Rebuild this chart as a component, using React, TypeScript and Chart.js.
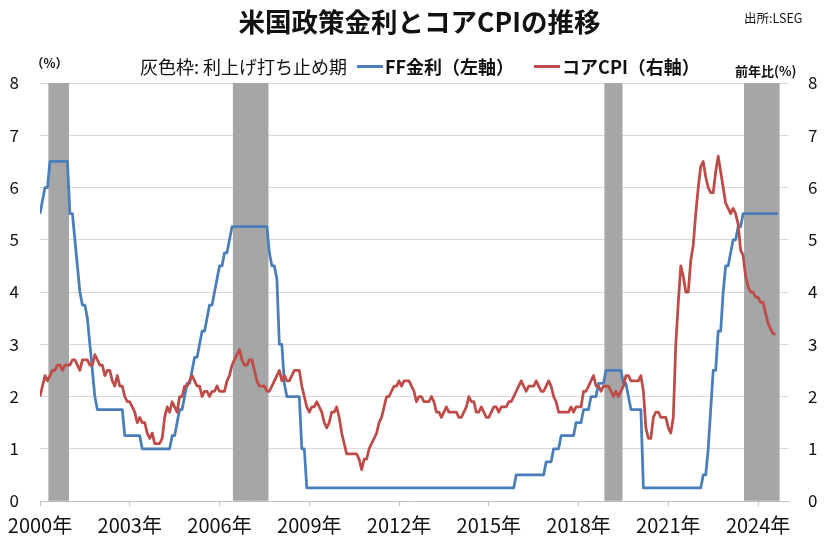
import React, { useEffect, useRef } from "react";
import { Chart, registerables } from "chart.js";

Chart.register(...registerables);

// ---- data ----
const xTickLabels = ["2000年", "2003年", "2006年", "2009年", "2012年", "2015年", "2018年", "2021年", "2024年"];
const yTickValues = [0, 1, 2, 3, 4, 5, 6, 7, 8];
const firstYear = 2000;
const axisMonths = 300;

// FF rate (target / upper bound, %), monthly from Jan 2000 to Sep 2024
const ffRate = [
  5.5, 5.75, 6, 6, 6.5, 6.5, 6.5, 6.5, 6.5, 6.5, 6.5, 6.5, // 2000
  5.5, 5.5, 5, 4.5, 4, 3.75, 3.75, 3.5, 3, 2.5, 2, 1.75, // 2001
  1.75, 1.75, 1.75, 1.75, 1.75, 1.75, 1.75, 1.75, 1.75, 1.75, 1.25, 1.25, // 2002
  1.25, 1.25, 1.25, 1.25, 1.25, 1, 1, 1, 1, 1, 1, 1, // 2003
  1, 1, 1, 1, 1, 1.25, 1.25, 1.5, 1.75, 1.75, 2, 2.25, // 2004
  2.25, 2.5, 2.75, 2.75, 3, 3.25, 3.25, 3.5, 3.75, 3.75, 4, 4.25, // 2005
  4.5, 4.5, 4.75, 4.75, 5, 5.25, 5.25, 5.25, 5.25, 5.25, 5.25, 5.25, // 2006
  5.25, 5.25, 5.25, 5.25, 5.25, 5.25, 5.25, 5.25, 4.75, 4.5, 4.5, 4.25, // 2007
  3, 3, 2.25, 2, 2, 2, 2, 2, 2, 1, 1, 0.25, // 2008
  0.25, 0.25, 0.25, 0.25, 0.25, 0.25, 0.25, 0.25, 0.25, 0.25, 0.25, 0.25, // 2009
  0.25, 0.25, 0.25, 0.25, 0.25, 0.25, 0.25, 0.25, 0.25, 0.25, 0.25, 0.25, // 2010
  0.25, 0.25, 0.25, 0.25, 0.25, 0.25, 0.25, 0.25, 0.25, 0.25, 0.25, 0.25, // 2011
  0.25, 0.25, 0.25, 0.25, 0.25, 0.25, 0.25, 0.25, 0.25, 0.25, 0.25, 0.25, // 2012
  0.25, 0.25, 0.25, 0.25, 0.25, 0.25, 0.25, 0.25, 0.25, 0.25, 0.25, 0.25, // 2013
  0.25, 0.25, 0.25, 0.25, 0.25, 0.25, 0.25, 0.25, 0.25, 0.25, 0.25, 0.25, // 2014
  0.25, 0.25, 0.25, 0.25, 0.25, 0.25, 0.25, 0.25, 0.25, 0.25, 0.25, 0.5, // 2015
  0.5, 0.5, 0.5, 0.5, 0.5, 0.5, 0.5, 0.5, 0.5, 0.5, 0.5, 0.75, // 2016
  0.75, 0.75, 1, 1, 1, 1.25, 1.25, 1.25, 1.25, 1.25, 1.25, 1.5, // 2017
  1.5, 1.5, 1.75, 1.75, 1.75, 2, 2, 2, 2.25, 2.25, 2.25, 2.5, // 2018
  2.5, 2.5, 2.5, 2.5, 2.5, 2.5, 2.25, 2.25, 2, 1.75, 1.75, 1.75, // 2019
  1.75, 1.75, 0.25, 0.25, 0.25, 0.25, 0.25, 0.25, 0.25, 0.25, 0.25, 0.25, // 2020
  0.25, 0.25, 0.25, 0.25, 0.25, 0.25, 0.25, 0.25, 0.25, 0.25, 0.25, 0.25, // 2021
  0.25, 0.25, 0.5, 0.5, 1, 1.75, 2.5, 2.5, 3.25, 3.25, 4, 4.5, // 2022
  4.5, 4.75, 5, 5, 5.25, 5.25, 5.5, 5.5, 5.5, 5.5, 5.5, 5.5, // 2023
  5.5, 5.5, 5.5, 5.5, 5.5, 5.5, 5.5, 5.5, 5.5, // 2024
];

// Core CPI, year-over-year %, monthly from Jan 2000 to Aug 2024
const coreCpi = [
  2.0, 2.2, 2.4, 2.3, 2.4, 2.5, 2.5, 2.6, 2.6, 2.5, 2.6, 2.6, // 2000
  2.6, 2.7, 2.7, 2.6, 2.5, 2.7, 2.7, 2.7, 2.6, 2.6, 2.8, 2.7, // 2001
  2.6, 2.6, 2.4, 2.5, 2.5, 2.3, 2.2, 2.4, 2.2, 2.2, 2.0, 1.9, // 2002
  1.9, 1.8, 1.7, 1.5, 1.6, 1.5, 1.5, 1.3, 1.2, 1.3, 1.1, 1.1, // 2003
  1.1, 1.2, 1.6, 1.8, 1.7, 1.9, 1.8, 1.7, 2.0, 2.0, 2.2, 2.2, // 2004
  2.3, 2.4, 2.3, 2.2, 2.2, 2.0, 2.1, 2.1, 2.0, 2.1, 2.1, 2.2, // 2005
  2.1, 2.1, 2.1, 2.3, 2.4, 2.6, 2.7, 2.8, 2.9, 2.7, 2.6, 2.6, // 2006
  2.7, 2.7, 2.5, 2.3, 2.2, 2.2, 2.2, 2.1, 2.1, 2.2, 2.3, 2.4, // 2007
  2.5, 2.3, 2.4, 2.3, 2.3, 2.4, 2.5, 2.5, 2.5, 2.2, 2.0, 1.8, // 2008
  1.7, 1.8, 1.8, 1.9, 1.8, 1.7, 1.5, 1.4, 1.5, 1.7, 1.7, 1.8, // 2009
  1.6, 1.3, 1.1, 0.9, 0.9, 0.9, 0.9, 0.9, 0.8, 0.6, 0.8, 0.8, // 2010
  1.0, 1.1, 1.2, 1.3, 1.5, 1.6, 1.8, 2.0, 2.0, 2.1, 2.2, 2.2, // 2011
  2.3, 2.2, 2.3, 2.3, 2.3, 2.2, 2.1, 1.9, 2.0, 2.0, 1.9, 1.9, // 2012
  1.9, 2.0, 1.9, 1.7, 1.7, 1.6, 1.7, 1.8, 1.7, 1.7, 1.7, 1.7, // 2013
  1.6, 1.6, 1.7, 1.8, 2.0, 1.9, 1.9, 1.7, 1.7, 1.8, 1.7, 1.6, // 2014
  1.6, 1.7, 1.8, 1.8, 1.7, 1.8, 1.8, 1.8, 1.9, 1.9, 2.0, 2.1, // 2015
  2.2, 2.3, 2.2, 2.1, 2.2, 2.2, 2.2, 2.3, 2.2, 2.1, 2.1, 2.2, // 2016
  2.3, 2.2, 2.0, 1.9, 1.7, 1.7, 1.7, 1.7, 1.7, 1.8, 1.7, 1.8, // 2017
  1.8, 1.8, 2.1, 2.1, 2.2, 2.3, 2.4, 2.2, 2.2, 2.1, 2.2, 2.2, // 2018
  2.2, 2.1, 2.0, 2.1, 2.0, 2.1, 2.2, 2.4, 2.4, 2.3, 2.3, 2.3, // 2019
  2.3, 2.4, 2.1, 1.4, 1.2, 1.2, 1.6, 1.7, 1.7, 1.6, 1.6, 1.6, // 2020
  1.4, 1.3, 1.6, 3.0, 3.8, 4.5, 4.3, 4.0, 4.0, 4.6, 4.9, 5.5, // 2021
  6.0, 6.4, 6.5, 6.2, 6.0, 5.9, 5.9, 6.3, 6.6, 6.3, 6.0, 5.7, // 2022
  5.6, 5.5, 5.6, 5.5, 5.3, 4.8, 4.7, 4.3, 4.1, 4.0, 4.0, 3.9, // 2023
  3.9, 3.8, 3.8, 3.6, 3.4, 3.3, 3.2, 3.2, // 2024
];

// Rate-hike pause periods (grey bands), first and last month
const holdStart = ["2000-05", "2006-07", "2018-12", "2023-08"];
const holdEnd = ["2000-12", "2007-08", "2019-06", "2024-09"];
const bandTop = 8;

// ---- styles ----
const BLUE = "#4a7ebb";
const RED = "#be4b48";
const GREY = "#a6a6a6";
const FONT = "'Noto Sans CJK JP', 'Noto Sans', sans-serif";

function monthIndex(s: string): number {
  const [y, m] = s.split("-").map(Number);
  return (y - firstYear) * 12 + (m - 1);
}

export default function App() {
  const canvasRef = useRef<HTMLCanvasElement | null>(null);

  useEffect(() => {
    document.body.style.margin = "0";
    const canvas = canvasRef.current;
    if (!canvas) return;

    const bandData: { x: number; y: number }[] = [];
    holdStart.forEach((s, k) => {
      const a = monthIndex(s);
      const b = monthIndex(holdEnd[k]);
      for (let i = a; i <= b; i++) bandData.push({ x: i, y: bandTop });
    });
    const tickMonths = xTickLabels.map((l) => (parseInt(l, 10) - firstYear) * 12);

    const chart = new Chart(canvas, {
      data: {
        datasets: [
          {
            type: "line",
            label: "FF金利（左軸）",
            data: ffRate.map((v, i) => ({ x: i, y: v })),
            borderColor: BLUE,
            backgroundColor: BLUE,
            borderWidth: 2.75,
            pointRadius: 0,
            tension: 0,
            borderJoinStyle: "round",
            yAxisID: "y",
            order: 1,
          },
          {
            type: "line",
            label: "コアCPI（右軸）",
            data: coreCpi.map((v, i) => ({ x: i, y: v })),
            borderColor: RED,
            backgroundColor: RED,
            borderWidth: 2.75,
            pointRadius: 0,
            tension: 0,
            borderJoinStyle: "round",
            yAxisID: "y1",
            order: 0,
          },
          {
            type: "bar",
            label: "利上げ打ち止め期",
            data: bandData,
            backgroundColor: GREY,
            borderWidth: 0,
            barPercentage: 1,
            categoryPercentage: 1,
            grouped: false,
            yAxisID: "y",
            order: 2,
          },
        ],
      } as any,
      options: {
        responsive: false,
        animation: false,
        devicePixelRatio: 1,
        layout: { padding: { top: 83, left: 0, right: 0, bottom: 0 } },
        plugins: {
          legend: { display: false },
          tooltip: { enabled: false },
          title: { display: false },
        },
        scales: {
          x: {
            type: "linear",
            offset: false,
            min: 0,
            max: axisMonths,
            afterBuildTicks: (s: any) => {
              s.ticks = tickMonths.map((v) => ({ value: v }));
            },
            afterFit: (s: any) => {
              s.height = 47;
            },
            ticks: {
              autoSkip: false,
              maxRotation: 0,
              padding: 7,
              color: "#111",
              font: { family: FONT, size: 20 },
              callback: (v: any) => xTickLabels[tickMonths.indexOf(Number(v))] ?? "",
            },
            grid: { offset: false, drawOnChartArea: false, drawTicks: true, tickLength: 5, color: "#bfbfbf" },
            border: { display: true, color: "#bfbfbf", width: 1 },
          },
          y: {
            type: "linear",
            position: "left",
            min: 0,
            max: 8,
            afterBuildTicks: (s: any) => {
              s.ticks = yTickValues.map((v) => ({ value: v }));
            },
            afterFit: (s: any) => {
              s.width = 40;
            },
            ticks: {
              padding: 21,
              color: "#111",
              font: { family: FONT, size: 17 },
            },
            grid: { color: "#d9d9d9", drawTicks: false, lineWidth: 1 },
            border: { display: false },
          },
          y1: {
            type: "linear",
            position: "right",
            min: 0,
            max: 8,
            afterBuildTicks: (s: any) => {
              s.ticks = yTickValues.map((v) => ({ value: v }));
            },
            afterFit: (s: any) => {
              s.width = 51;
            },
            ticks: {
              padding: 20,
              color: "#111",
              font: { family: FONT, size: 17 },
            },
            grid: { drawOnChartArea: false, drawTicks: false },
            border: { display: false },
          },
        },
      } as any,
    });

    return () => chart.destroy();
  }, []);

  const abs = (o: React.CSSProperties): React.CSSProperties => ({
    position: "absolute",
    whiteSpace: "nowrap",
    fontFamily: FONT,
    color: "#111",
    ...o,
  });

  return (
    <div style={{ position: "relative", width: 839, height: 548, background: "#fff", overflow: "hidden" }}>
      <canvas ref={canvasRef} width={839} height={548} style={{ position: "absolute", left: 0, top: 0 }} />
      <div style={abs({ left: 0, width: 839, top: 4, textAlign: "center", fontSize: 26.5, fontWeight: 700, lineHeight: "34px" })}>
        米国政策金利とコアCPIの推移
      </div>
      <div style={abs({ left: 744, top: 10, fontSize: 12.5, lineHeight: "16px" })}>出所:LSEG</div>
      <div style={abs({ left: 31, top: 55, fontSize: 12.5, fontWeight: 700, lineHeight: "16px" })}>（%）</div>
      <div style={abs({ left: 735, top: 62, fontSize: 13, fontWeight: 700, lineHeight: "18px" })}>前年比(%)</div>
      <div style={abs({ left: 140, top: 53, fontSize: 18, lineHeight: "26px", display: "flex", alignItems: "center" })}>
        <span>灰色枠: 利上げ打ち止め期</span>
        <span style={{ display: "inline-block", width: 26, height: 3, background: BLUE, marginLeft: 10, marginRight: 2 }} />
        <span style={{ fontWeight: 700 }}>FF金利（左軸）</span>
        <span style={{ display: "inline-block", width: 26, height: 3, background: RED, marginLeft: 20, marginRight: 2 }} />
        <span style={{ fontWeight: 700 }}>コアCPI（右軸）</span>
      </div>
    </div>
  );
}
